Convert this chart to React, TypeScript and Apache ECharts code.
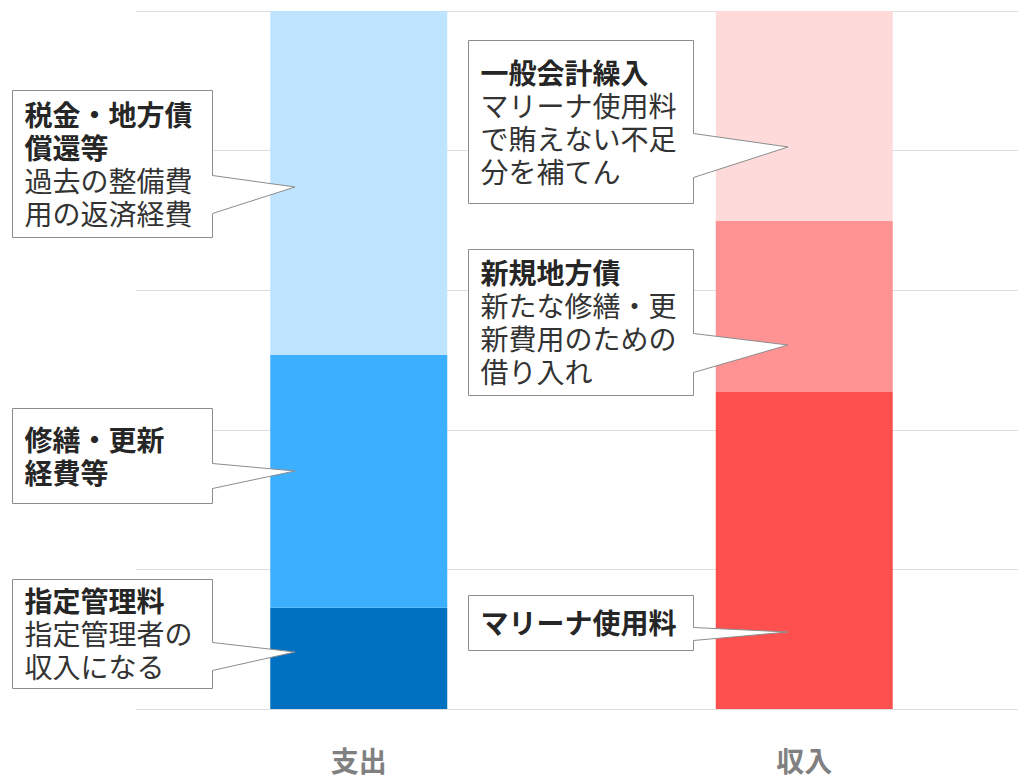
import React, { useEffect, useRef } from 'react';
import * as echarts from 'echarts';

// ---- data ----
const categories = ['支出', '収入'];
const bottomValues = [14.5, 45.4]; // 指定管理料 / マリーナ使用料
const middleValues = [36.2, 24.5]; // 修繕・更新経費等 / 新規地方債
const topValues = [49.3, 30.1]; // 税金・地方債償還等 / 一般会計繰入
const axisMax = 100;
const axisInterval = 20;

const bottomColors = ['#0070C0', '#FF5050'];
const middleColors = ['#3DAFFF', '#FF9393'];
const topColors = ['#BFE4FF', '#FFDADA'];

// ---- annotation texts ----
const calloutTitles = [
  ['税金・地方債', '償還等'],
  ['修繕・更新', '経費等'],
  ['指定管理料'],
  ['一般会計繰入'],
  ['新規地方債'],
  ['マリーナ使用料'],
];
const calloutBodies = [
  ['過去の整備費', '用の返済経費'],
  [],
  ['指定管理者の', '収入になる'],
  ['マリーナ使用料', 'で賄えない不足', '分を補てん'],
  ['新たな修繕・更', '新費用のための', '借り入れ'],
  [],
];

// ---- annotation layout (pixels) ----
const calloutLayout = [
  { box: [12, 90, 212, 237], p: [175, 213], tip: [295, 187] },
  { box: [12, 408, 212, 503], p: [463, 488], tip: [295, 471] },
  { box: [12, 579, 212, 688], p: [642, 670], tip: [295, 652] },
  { box: [468, 40, 693, 203], p: [133, 177], tip: [788, 147] },
  { box: [468, 249, 693, 395], p: [333, 372], tip: [788, 345] },
  { box: [468, 595, 693, 650], p: [627, 640], tip: [788, 632] },
];

const FONT = '"Noto Sans CJK JP", "Noto Sans", sans-serif';

function buildGraphic() {
  const els: any[] = [];
  calloutLayout.forEach((c, i) => {
    const [x0, y0, x1, y1] = c.box.map((v) => v + 0.5);
    const [p1, p2] = c.p.map((v) => v + 0.5);
    els.push({
      type: 'polygon',
      z: 100,
      shape: {
        points: [
          [x0, y0],
          [x1, y0],
          [x1, p1],
          [c.tip[0], c.tip[1]],
          [x1, p2],
          [x1, y1],
          [x0, y1],
        ],
      },
      style: { fill: '#ffffff', stroke: '#8c8c8c', lineWidth: 1 },
    });
    const lines = [
      ...calloutTitles[i].map((t) => `{b|${t}}`),
      ...calloutBodies[i].map((t) => `{r|${t}}`),
    ];
    els.push({
      type: 'text',
      z: 101,
      x: x0 + 12,
      y: (y0 + y1) / 2 - 1,
      style: {
        text: lines.join('\n'),
        verticalAlign: 'middle',
        align: 'left',
        fill: '#333333',
        fontFamily: FONT,
        fontSize: 28,
        rich: {
          b: { fontWeight: 'bold', fontSize: 28, lineHeight: 33, fontFamily: FONT, fill: '#262626' },
          r: { fontWeight: 'normal', fontSize: 28, lineHeight: 33, fontFamily: FONT, fill: '#333333' },
        },
      },
    });
  });
  return els;
}

function makeSeries(name: string, values: number[], colors: string[]) {
  return {
    name,
    type: 'bar',
    stack: 'total',
    barWidth: 177,
    data: values.map((v, i) => ({ value: v, itemStyle: { color: colors[i] } })),
  };
}

export default function App() {
  const ref = useRef<HTMLDivElement>(null);
  useEffect(() => {
    if (!ref.current) return;
    const chart = echarts.init(ref.current, undefined, { renderer: 'svg' });
    chart.setOption({
      animation: false,
      grid: { left: 136, top: 11, width: 891, bottom: 68, containLabel: false, outerBoundsMode: 'none' },
      xAxis: {
        type: 'category',
        data: categories,
        axisLine: { show: false },
        axisTick: { show: false },
        axisLabel: {
          margin: 37,
          fontSize: 28,
          lineHeight: 28,
          fontWeight: 'bold',
          color: '#808080',
          fontFamily: FONT,
        },
      },
      yAxis: {
        type: 'value',
        min: 0,
        max: axisMax,
        interval: axisInterval,
        axisLabel: { show: false },
        axisLine: { show: false },
        axisTick: { show: false },
        splitLine: { lineStyle: { color: '#dedede', width: 1 } },
      },
      series: [
        makeSeries('bottom', bottomValues, bottomColors),
        makeSeries('middle', middleValues, middleColors),
        makeSeries('top', topValues, topColors),
      ],
      graphic: buildGraphic(),
    });
    return () => chart.dispose();
  }, []);
  return (
    <div
      ref={ref}
      style={{ position: 'absolute', left: 0, top: 0, width: 1018, height: 777 }}
    />
  );
}
